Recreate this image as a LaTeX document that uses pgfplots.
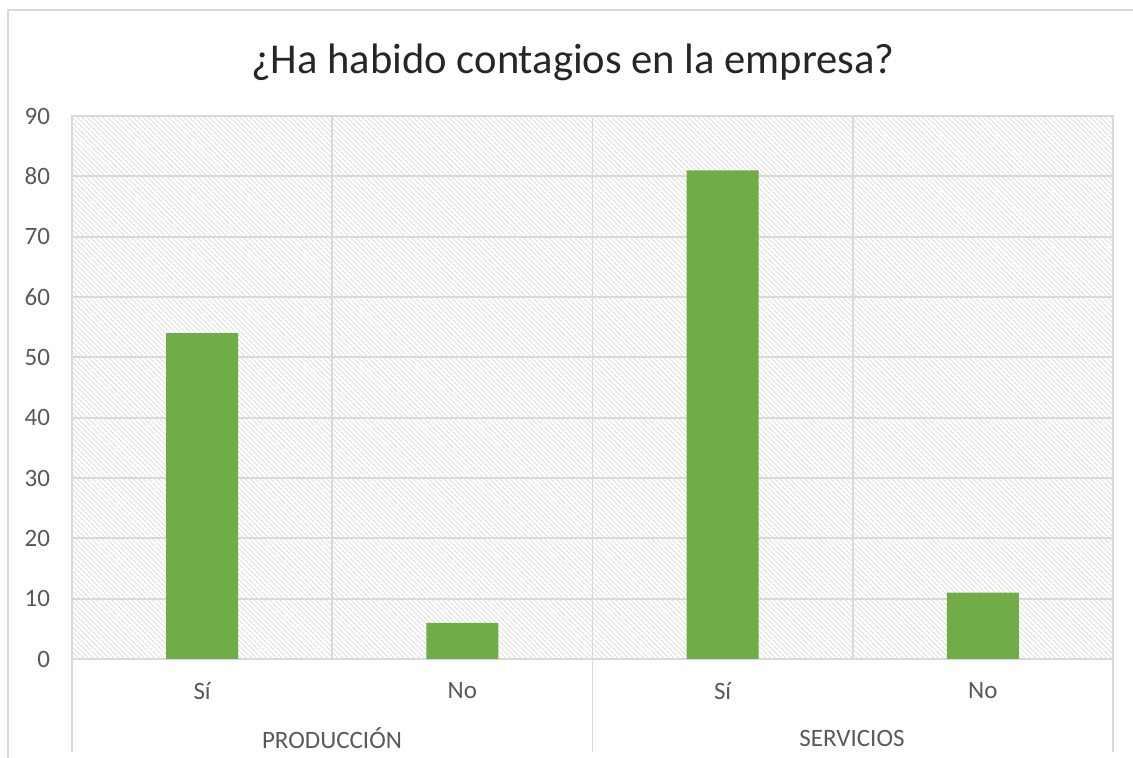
\documentclass[border=0pt]{standalone}
\usepackage{fontspec}
\setmainfont{Carlito}
\usepackage{pgfplots}
\pgfplotsset{compat=1.18}
\usetikzlibrary{patterns.meta}
\definecolor{bargreen}{HTML}{70AD47}
\definecolor{gridgray}{HTML}{D9D9D9}
\definecolor{txtgray}{HTML}{595959}
\begin{document}
\begin{tikzpicture}[x=0.5pt,y=0.5pt]
% picture frame in pixel-like units (1 unit = 0.5pt)
\useasboundingbox (-72,-99) rectangle (1061,659);
\begin{axis}[
    at={(0,0)}, anchor=south west,
    scale only axis,
    width=520.5pt, height=271.5pt,
    xmin=0, xmax=4, ymin=0, ymax=90,
    ytick={0,10,...,90},
    xtick={0.5,1.5,2.5,3.5},
    xticklabels={Sí,No,Sí,No},
    minor xtick={1,2,3},
    xminorgrids, ymajorgrids,
    grid style={gridgray, line width=0.9pt},
    minor grid style={gridgray, line width=0.9pt},
    axis line style={gridgray, line width=0.9pt},
    major tick length=0pt, minor tick length=0pt,
    tick label style={font=\fontsize{12.5}{14}\selectfont, text=txtgray},
    /pgf/number format/assume math mode=true,
    yticklabel style={xshift=-7.5pt},
    xticklabel style={yshift=-8pt},
    axis background/.style={pattern={Lines[angle=-45,distance=1.8pt,line width=0.35pt]}, pattern color=gridgray},
    ybar, bar width=36pt,
    clip=false,
]
\addplot[fill=bargreen, draw=none] coordinates {(0.5,54) (1.5,6) (2.5,81) (3.5,11)};
\end{axis}
% group dividers below the axis
\draw[gridgray, line width=0.9pt] (0,0) -- (0,-93) (520.5,0) -- (520.5,-93) (1041,0) -- (1041,-93);
\node[text=txtgray, font=\fontsize{12.5}{14}\selectfont] at (260,-79) {PRODUCCIÓN};
\node[text=txtgray, font=\fontsize{12.5}{14}\selectfont] at (780,-79) {SERVICIOS};
% chart frame
\draw[gridgray, line width=0.6pt] (-64,-99) -- (-64,649) -- (1061,649);
% title
\node[text=black!85, font=\fontsize{21.3}{26}\selectfont] at (501,597) {¿Ha habido contagios en la empresa?};
\end{tikzpicture}
\end{document}
